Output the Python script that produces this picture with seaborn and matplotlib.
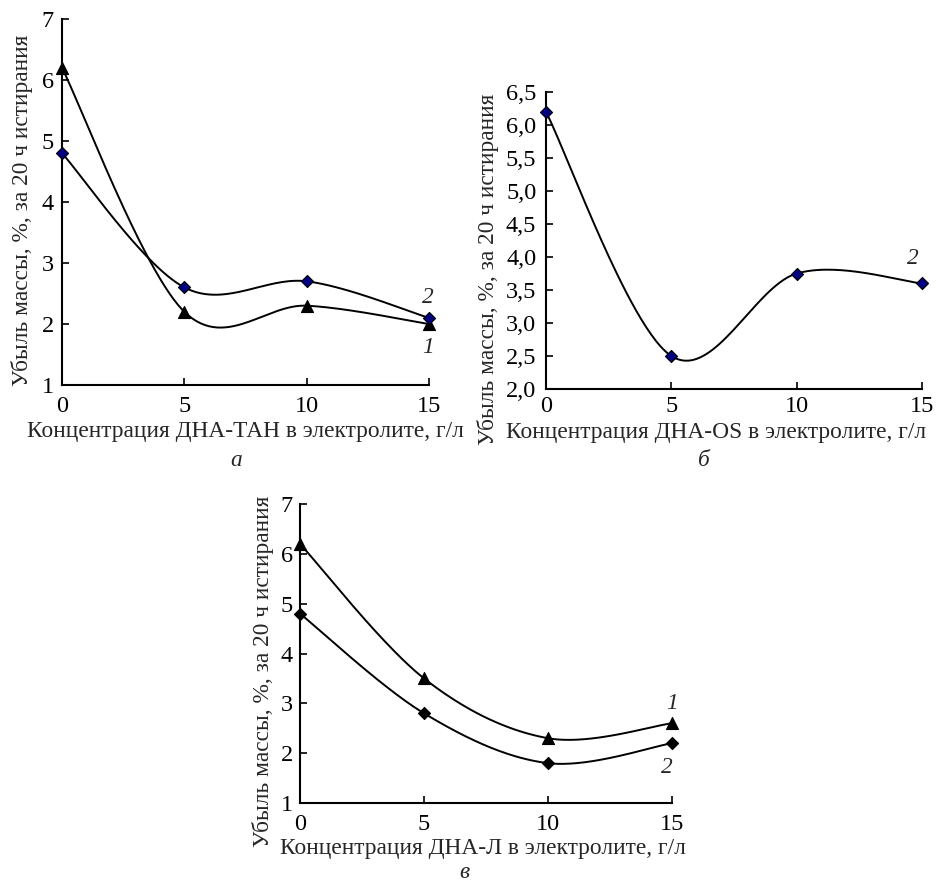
import numpy as np
import matplotlib
matplotlib.use("Agg")
import matplotlib.pyplot as plt
import matplotlib.ticker as mticker
import seaborn as sns

# Concentration of additive in the electrolyte, g/l
conc = [0, 5, 10, 15]

# Panel a: ДНА-ТАН
a_curve1 = [6.2, 2.2, 2.3, 2.0]
a_curve2 = [4.8, 2.6, 2.7, 2.1]
# Panel б: ДНА-OS
b_curve2 = [6.2, 2.5, 3.75, 3.6]
# Panel в: ДНА-Л
c_curve1 = [6.2, 3.5, 2.3, 2.6]
c_curve2 = [4.8, 2.8, 1.8, 2.2]

ylabel = "Убыль массы, %, за 20 ч истирания"
xlabels = ["Концентрация ДНА-ТАН в электролите, г/л",
           "Концентрация ДНА-OS в электролите, г/л",
           "Концентрация ДНА-Л в электролите, г/л"]
letters = ["а", "б", "в"]

sns.set_style("ticks")
plt.rcParams["font.family"] = ["Liberation Serif", "DejaVu Serif"]

W, H = 936, 886
fig = plt.figure(figsize=(W / 100, H / 100), dpi=100)
fig.patch.set_facecolor("white")

TICK_FS = 17.5
LABEL_FS = 16.8
NAVY = "#000080"


def px_axes(left, top, right, bottom):
    return fig.add_axes([left / W, 1 - bottom / H, (right - left) / W, (bottom - top) / H])


def smooth(ax, xs, ys, n=60):
    """Excel-style smoothed line: Catmull-Rom Bezier built in display space."""
    pts = ax.transData.transform(np.column_stack([xs, ys]))
    m = len(pts)
    out = []
    t = np.linspace(0, 1, n)[:, None]
    for i in range(m - 1):
        p0 = pts[max(i - 1, 0)]
        p1 = pts[i]
        p2 = pts[i + 1]
        p3 = pts[min(i + 2, m - 1)]
        c1 = p1 + (p2 - p0) / 6.0
        c2 = p2 - (p3 - p1) / 6.0
        seg = ((1 - t) ** 3) * p1 + 3 * ((1 - t) ** 2) * t * c1 + 3 * (1 - t) * t ** 2 * c2 + t ** 3 * p2
        out.append(seg if i == 0 else seg[1:])
    out = np.vstack(out)
    data = ax.transData.inverted().transform(out)
    return data[:, 0], data[:, 1]


def style_axes(ax, ylim, yticks, ypad, xpad=8, decimal=False):
    ax.set_xlim(0, 15)
    ax.set_ylim(*ylim)
    ax.set_xticks(conc)
    ax.set_yticks(yticks)
    if decimal:
        ax.yaxis.set_major_formatter(mticker.FuncFormatter(lambda v, p: f"{v:.1f}".replace(".", ",")))
    for s in ["top", "right"]:
        ax.spines[s].set_visible(False)
    for s in ["left", "bottom"]:
        ax.spines[s].set_linewidth(1.5)
        ax.spines[s].set_color("black")
    ax.tick_params(axis="both", direction="in", length=5, width=1.2, colors="black",
                   labelsize=TICK_FS)
    ax.tick_params(axis="x", pad=xpad)
    ax.tick_params(axis="y", pad=ypad)
    ax.set_facecolor("white")
    ax.grid(False)


def draw_series(ax, ys, marker, face, size):
    sx, sy = smooth(ax, conc, ys)
    sns.lineplot(x=sx, y=sy, ax=ax, color="black", linewidth=1.4, sort=False,
                 estimator=None, legend=False)
    sns.scatterplot(x=conc, y=ys, ax=ax, marker=marker, s=size, color=face,
                    edgecolor="black", linewidth=0.8, zorder=5, legend=False, clip_on=False)


# ---- panel a ----
ax_a = px_axes(62, 19, 429, 385)
style_axes(ax_a, (1, 7), range(1, 8), 6)
draw_series(ax_a, a_curve1, "^", "black", 75)
draw_series(ax_a, a_curve2, "D", NAVY, 38)
ax_a.text(14.96, 2.44, "2", style="italic", fontsize=LABEL_FS, ha="center", va="center")
ax_a.text(14.96, 1.61, "1", style="italic", fontsize=LABEL_FS, ha="center", va="center")
ax_a.set_xlabel(xlabels[0], fontsize=LABEL_FS, va="center")
ax_a.xaxis.set_label_coords(0.499, -0.128)
ax_a.set_ylabel(ylabel, fontsize=LABEL_FS, va="center")
ax_a.yaxis.set_label_coords(-0.109, 0.478)

# ---- panel б ----
ax_b = px_axes(546, 92, 922, 389)
style_axes(ax_b, (2.0, 6.5), np.arange(2.0, 6.51, 0.5), 7, xpad=5, decimal=True)
draw_series(ax_b, b_curve2, "D", NAVY, 38)
ax_b.text(14.64, 3.98, "2", style="italic", fontsize=LABEL_FS, ha="center", va="center")
ax_b.set_xlabel(xlabels[1], fontsize=LABEL_FS, va="center")
ax_b.xaxis.set_label_coords(0.452, -0.145)
ax_b.set_ylabel(ylabel, fontsize=LABEL_FS, va="center")
ax_b.yaxis.set_label_coords(-0.154, 0.404)

# ---- panel в ----
ax_c = px_axes(300, 504, 672, 803)
style_axes(ax_c, (1, 7), range(1, 8), 5)
draw_series(ax_c, c_curve1, "^", "black", 75)
draw_series(ax_c, c_curve2, "D", "black", 38)
ax_c.text(15.0, 3.0, "1", style="italic", fontsize=LABEL_FS, ha="center", va="center")
ax_c.text(14.8, 1.72, "2", style="italic", fontsize=LABEL_FS, ha="center", va="center")
ax_c.set_xlabel(xlabels[2], fontsize=LABEL_FS, va="center")
ax_c.xaxis.set_label_coords(0.492, -0.153)
ax_c.set_ylabel(ylabel, fontsize=LABEL_FS, va="center")
ax_c.yaxis.set_label_coords(-0.099, 0.441)

# panel letters
for (x, y), letter in zip([(236, 460), (704, 460), (464, 872)], letters):
    fig.text(x / W, 1 - y / H, letter, style="italic", fontsize=LABEL_FS,
             ha="center", va="center")

fig.savefig("out.png", dpi=100, facecolor="white")
